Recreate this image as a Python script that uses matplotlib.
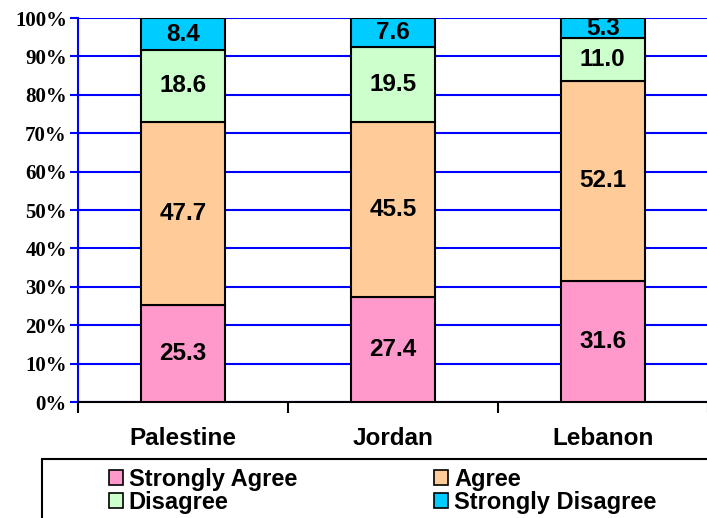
import matplotlib
matplotlib.use("Agg")
import matplotlib.pyplot as plt
from matplotlib.patches import Rectangle, Patch
import numpy as np

categories = ["Palestine", "Jordan", "Lebanon"]
series_names = ["Strongly Agree", "Agree", "Disagree", "Strongly Disagree"]
strongly_agree = [25.3, 27.4, 31.6]
agree = [47.7, 45.5, 52.1]
disagree = [18.6, 19.5, 11.0]
strongly_disagree = [8.4, 7.6, 5.3]
colors = ["#FF99CC", "#FFCC99", "#CCFFCC", "#00CCFF"]
yticks = [0, 10, 20, 30, 40, 50, 60, 70, 80, 90, 100]
ytick_labels = [f"{v}%" for v in yticks]

series = [strongly_agree, agree, disagree, strongly_disagree]

fig = plt.figure(figsize=(7.07, 5.18), dpi=100)
ax = fig.add_axes([78/707, 1-402/518, 1-78/707+0.01, (402-18)/518])

x = np.arange(len(categories))
bottom = np.zeros(len(categories))
for vals, col, name in zip(series, colors, series_names):
    v = np.array(vals)
    ax.bar(x, v, 0.4, bottom=bottom, color=col, edgecolor="black", linewidth=1.5, label=name, zorder=3)
    for xi, b, h in zip(x, bottom, v):
        ax.text(xi, b + h/2, f"{h:.1f}", ha="center", va="center", fontsize=17.5,
                fontweight="bold", family="Liberation Sans", zorder=4)
    bottom += v

ax.set_xlim(-0.5, 2.5 + 0.03)
ax.set_ylim(0, 100)
ax.set_yticks(yticks)
ax.set_yticklabels(ytick_labels, family="Liberation Serif", fontweight="bold", fontsize=15)
ax.yaxis.grid(True, color="#0000FF", linewidth=1.5, zorder=0)
ax.tick_params(axis="y", colors="#0000FF", length=6, width=1.5, labelcolor="black", pad=2)
ax.spines["left"].set_color("#0000FF")
ax.spines["left"].set_linewidth(1.5)
ax.spines["top"].set_visible(False)
ax.spines["right"].set_visible(False)
ax.spines["bottom"].set_linewidth(1.5)

ax.set_xticks([-0.5, 0.5, 1.5, 2.5])
ax.set_xticklabels([])
ax.set_xticks(x, minor=True)
ax.set_xticklabels(categories, minor=True, fontsize=17.5, fontweight="bold", family="Liberation Sans")
ax.tick_params(axis="x", which="minor", length=0, pad=18)
ax.tick_params(axis="x", which="major", length=8, width=1.5, direction="out")

# legend box
fig.patches.append(Rectangle((42/707, -0.05), 1.0, (518-459)/518 + 0.05, transform=fig.transFigure,
                             fill=False, edgecolor="black", linewidth=1.5))
handles = [Patch(facecolor=c, edgecolor="black", linewidth=1.2) for c in colors]
order = [0, 2, 1, 3]
leg = fig.legend([handles[i] for i in order], [series_names[i] for i in order],
                 loc="upper left", bbox_to_anchor=(97/707, 1-456/518), ncol=2,
                 frameon=False, prop={"family": "Liberation Sans", "weight": "bold", "size": 17},
                 handlelength=0.6, handleheight=0.6, handletextpad=0.25, columnspacing=5.8,
                 labelspacing=0.0, borderpad=0)

fig.savefig("out.png", dpi=100)
